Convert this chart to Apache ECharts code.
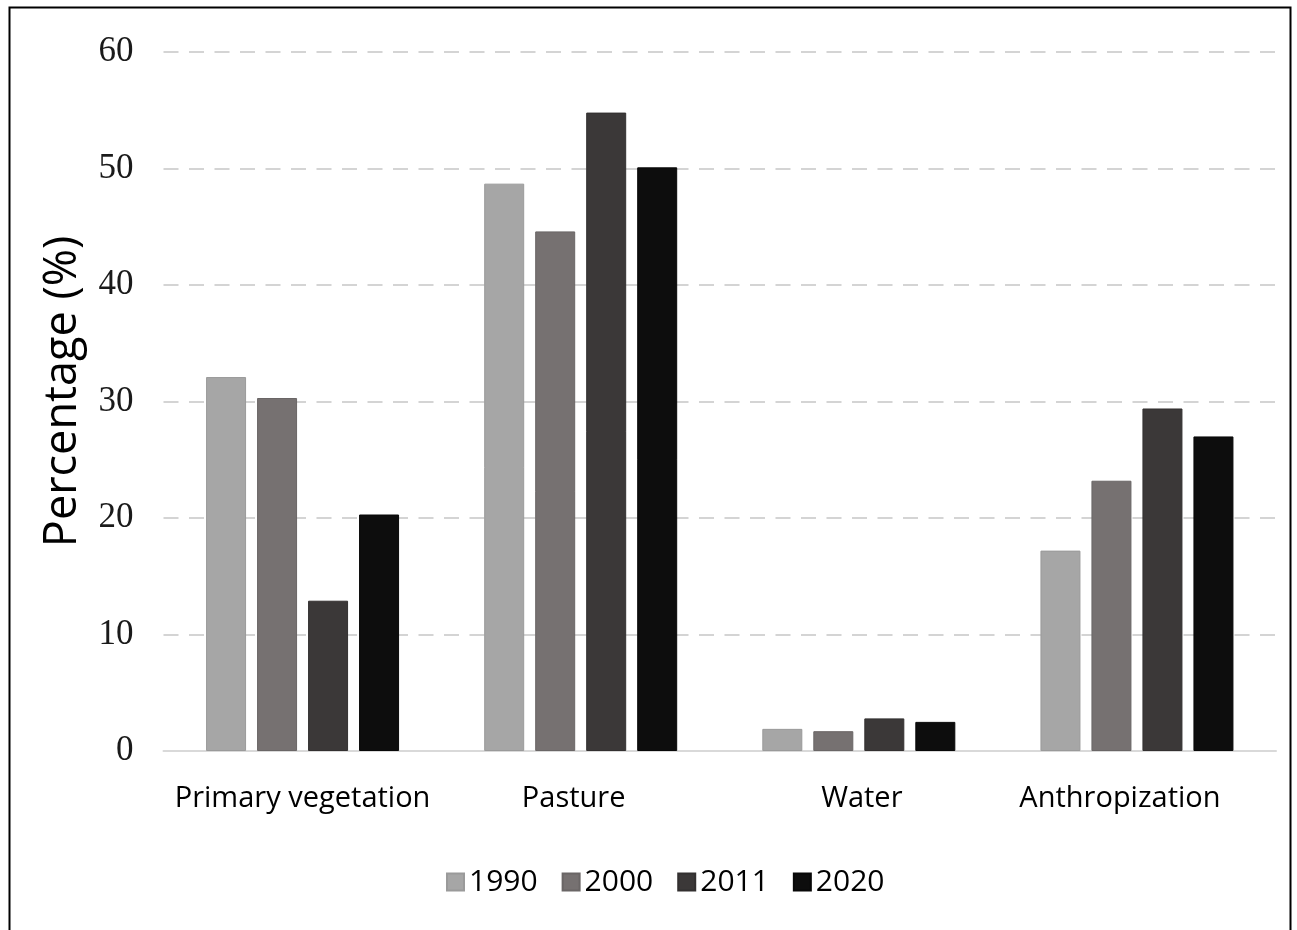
<!DOCTYPE html>
<html>
<head>
<meta charset="utf-8">
<script src="https://cdn.jsdelivr.net/npm/echarts@6/dist/echarts.min.js"></script>
<style>
  html, body { margin: 0; padding: 0; background: #fff; }
  #chart { width: 1297px; height: 930px; }
</style>
</head>
<body>
<div id="chart"></div>
<script>
// Land cover share per class and year
const categories = ['Primary vegetation', 'Pasture', 'Water', 'Anthropization'];
const years = ['1990', '2000', '2011', '2020'];
const values1990 = [32.1, 48.7, 1.9, 17.2];
const values2000 = [30.3, 44.6, 1.7, 23.2];
const values2011 = [12.9, 54.8, 2.8, 29.4];
const values2020 = [20.3, 50.1, 2.5, 27.0];
const yTicks = [0, 10, 20, 30, 40, 50, 60];

const seriesValues = [values1990, values2000, values2011, values2020];
const barColors = ['#a6a6a6', '#767171', '#3b3838', '#0d0d0d'];
const edgeColors = ['#9a9a9a', '#6a6666', '#333030', '#080808'];

// small nudges of the category labels: right padding shifts left, left padding shifts right
const labelPad = [
  [0, 0, 0, 0],
  [0, 14, 0, 0],
  [0, 0, 0, 6],
  [0, 34, 8, 0]
];

const chart = echarts.init(document.getElementById('chart'), null, { renderer: 'canvas' });

chart.setOption({
  animation: false,
  backgroundColor: '#ffffff',
  grid: { left: 163.5, right: 21, top: 52, bottom: 179, containLabel: false },
  legend: {
    data: years,
    left: 441,
    top: 862,
    itemWidth: 17,
    itemHeight: 17,
    itemGap: 24,
    icon: 'rect',
    textStyle: { fontFamily: 'Open Sans', fontSize: 30, color: '#000' }
  },
  xAxis: {
    type: 'category',
    data: categories.map((c, i) => ({ value: c, textStyle: { padding: labelPad[i] } })),
    axisLine: { show: true, lineStyle: { color: '#d9d9d9', width: 2 } },
    axisTick: { show: false },
    axisLabel: { margin: 33, fontFamily: 'Open Sans', fontSize: 29, color: '#000', interval: 0 }
  },
  yAxis: {
    type: 'value',
    min: yTicks[0],
    max: yTicks[yTicks.length - 1],
    interval: 10,
    name: 'Percentage (%)',
    nameLocation: 'middle',
    nameRotate: 90,
    nameGap: 78,
    nameTextStyle: { fontFamily: 'Open Sans', fontSize: 45, color: '#000', padding: [0, 0, 0, 20] },
    axisLine: { show: false },
    axisTick: { show: false },
    axisLabel: { margin: 30, fontFamily: 'Liberation Serif', fontSize: 35, color: '#1a1a1a' },
    splitLine: { show: true, lineStyle: { color: '#d4d4d4', width: 2, type: [15, 10.5] } }
  },
  series: seriesValues.map((vals, i) => ({
    name: years[i],
    type: 'bar',
    data: vals,
    barWidth: 40,
    barGap: '27.5%',
    itemStyle: { color: barColors[i], borderColor: edgeColors[i], borderWidth: 1 }
  })),
  graphic: [{
    type: 'rect',
    shape: { x: 9.5, y: 7.5, width: 1281, height: 940 },
    style: { fill: 'none', stroke: '#000', lineWidth: 2 },
    silent: true
  }]
});
</script>
</body>
</html>
